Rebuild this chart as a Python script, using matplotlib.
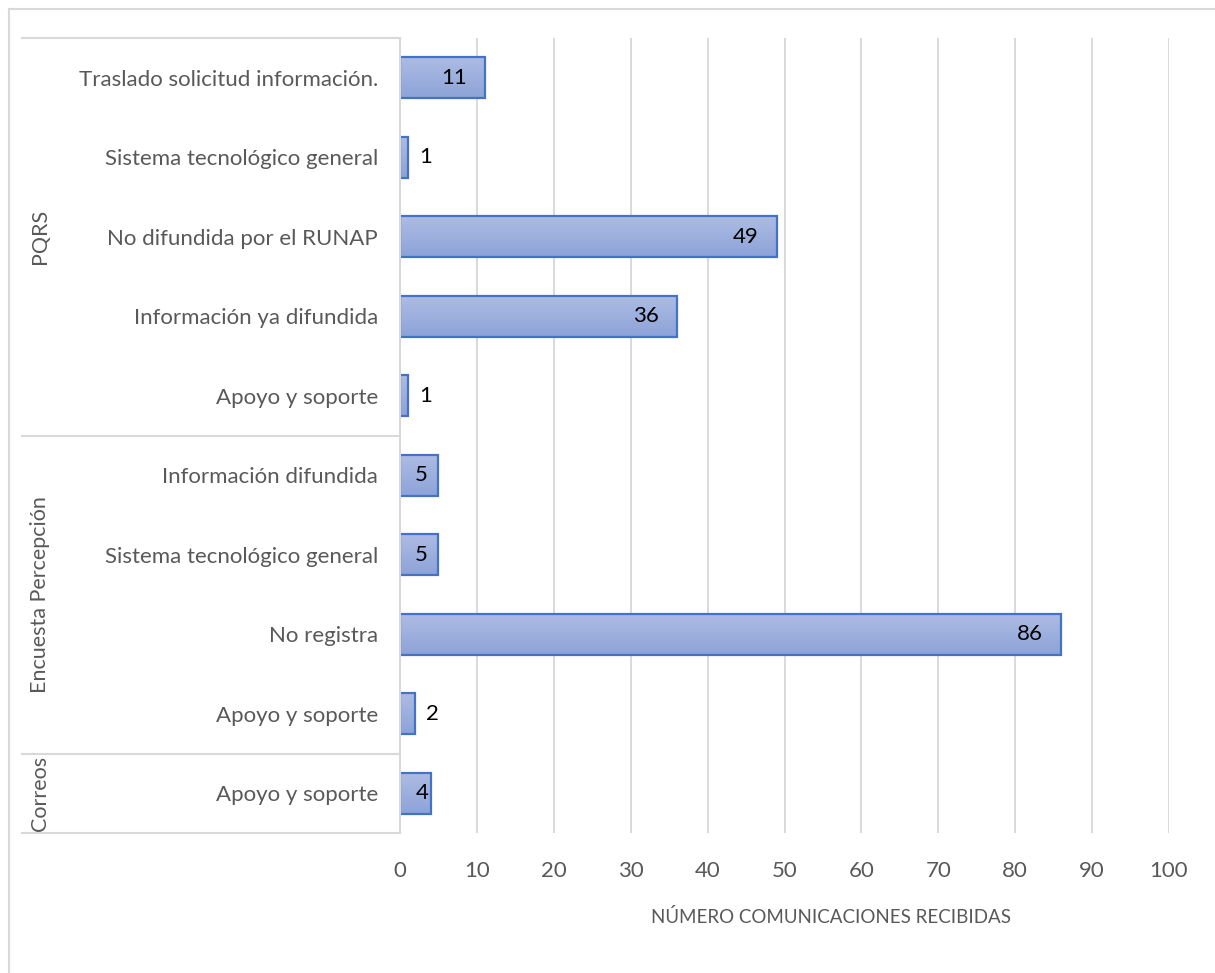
import numpy as np
import matplotlib.pyplot as plt
from matplotlib.transforms import blended_transform_factory
from matplotlib.colors import LinearSegmentedColormap
from matplotlib.lines import Line2D

plt.rcParams['font.family'] = ['Lato', 'DejaVu Sans']

# Datos: grupos de canal y tipos de comunicación (de arriba hacia abajo)
groups = ["PQRS", "Encuesta Percepción", "Correos"]
group_sizes = [5, 4, 1]
categories = [
    "Traslado solicitud información.",
    "Sistema tecnológico general",
    "No difundida por el RUNAP",
    "Información ya difundida",
    "Apoyo y soporte",
    "Información difundida",
    "Sistema tecnológico general",
    "No registra",
    "Apoyo y soporte",
    "Apoyo y soporte",
]
values = [11, 1, 49, 36, 1, 5, 5, 86, 2, 4]

GRAY = '#595959'
LINE = '#d9d9d9'
EDGE = '#4472c4'

W, H = 1215, 973
fig = plt.figure(figsize=(W / 100, H / 100), dpi=100)
ax = fig.add_axes([400 / W, 140 / H, 769 / W, 795 / H])

pos = np.arange(len(categories))
bars = ax.barh(pos, values, height=0.52, color='none', edgecolor=EDGE,
               linewidth=1.6, zorder=3)

# relleno degradado dentro de cada barra
cmap = LinearSegmentedColormap.from_list('barra', ['#adbce3', '#8da3d8'])
grad = np.linspace(0, 1, 64).reshape(-1, 1)
for b in bars:
    x0, y0 = b.get_x(), b.get_y()
    im = ax.imshow(grad, extent=(x0, x0 + b.get_width(), y0 + b.get_height(), y0),
                   cmap=cmap, aspect='auto', origin='upper', zorder=2)
    im.set_clip_path(b)

# etiquetas de valor
for p, v in zip(pos, values):
    if v >= 10:
        ax.annotate(str(v), (v, p), xytext=(-13, 0), textcoords='offset points',
                    ha='right', va='center', fontsize=16, color='black', zorder=4)
    elif v >= 3:
        ax.annotate(str(v), (0, p), xytext=(11, 0), textcoords='offset points',
                    ha='left', va='center', fontsize=16, color='black', zorder=4)
    else:
        ax.annotate(str(v), (v, p), xytext=(8, 0), textcoords='offset points',
                    ha='left', va='center', fontsize=16, color='black', zorder=4)

ax.set_xlim(0, 100)
ax.set_ylim(len(categories) - 0.5, -0.5)
ax.set_xticks(range(0, 101, 10))
ax.set_yticks(pos)
ax.set_yticklabels(categories)
ax.tick_params(axis='y', length=0, pad=16, labelsize=16, labelcolor=GRAY)
ax.tick_params(axis='x', length=0, pad=20, labelsize=16, labelcolor=GRAY)
ax.xaxis.grid(True, color=LINE, linewidth=1.4, zorder=0)
ax.set_axisbelow(True)
for s in ['top', 'right', 'bottom']:
    ax.spines[s].set_visible(False)
ax.spines['left'].set_color(LINE)
ax.spines['left'].set_linewidth(1.5)
ax.spines['left'].set_zorder(5)

ax.set_xlabel("NÚMERO COMUNICACIONES RECIBIDAS", fontsize=13.5, color=GRAY,
              labelpad=20)
ax.xaxis.set_label_coords((831 - 400) / 769, (833 - 917) / 795)
ax.xaxis.label.set_va('center')

# separadores y nombres de grupo
trans = blended_transform_factory(ax.transAxes, ax.transData)
x_left = (22 - 400) / 769
bounds = np.concatenate([[0], np.cumsum(group_sizes)]) - 0.5
for b in bounds:
    ax.plot([x_left, 0], [b, b], transform=trans, clip_on=False,
            color=LINE, linewidth=1.5)
for g, lo, hi in zip(groups, bounds[:-1], bounds[1:]):
    ax.text((40 - 400) / 769, (lo + hi) / 2, g, transform=trans, rotation=90,
            ha='center', va='center', fontsize=15.5, color=GRAY)

# borde exterior del gráfico
fig.add_artist(Line2D([9 / W, 1], [1 - 9 / H] * 2, transform=fig.transFigure,
                      color=LINE, linewidth=1.5))
fig.add_artist(Line2D([9 / W] * 2, [0, 1 - 9 / H], transform=fig.transFigure,
                      color=LINE, linewidth=1.5))

fig.savefig('out.png', dpi=100)
